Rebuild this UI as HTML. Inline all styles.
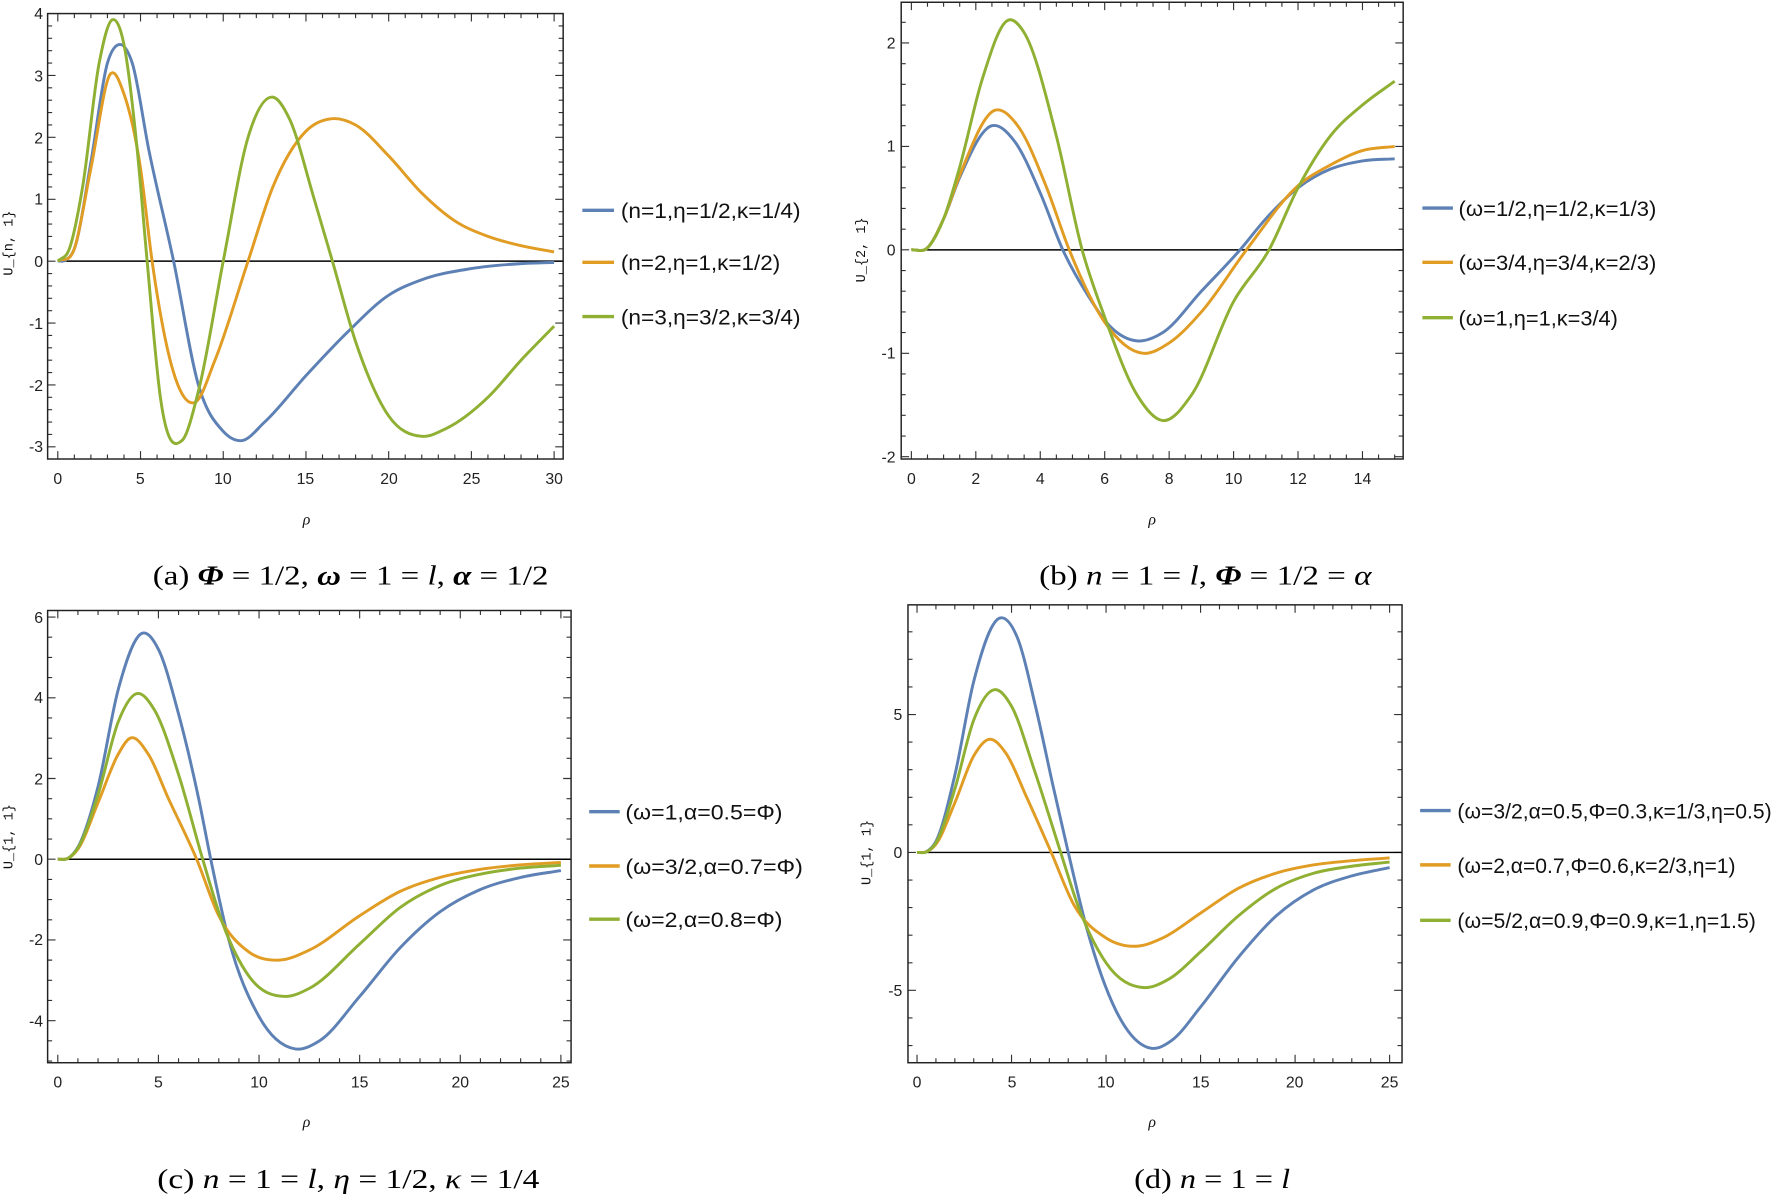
<!DOCTYPE html>
<html><head><meta charset="utf-8"><style>
html,body{margin:0;padding:0;background:#fff;}
svg{display:block}
.t{font-family:"Liberation Sans",sans-serif;font-size:14px;fill:#222}
.lg{font-family:"Liberation Sans","DejaVu Sans",sans-serif;font-size:19px;fill:#111}
.cap{font-family:"Liberation Serif",serif;font-size:24px;fill:#000}
.yl{font-family:"Liberation Mono",monospace;font-size:12px;fill:#111}
.rho{font-family:"Liberation Serif",serif;font-style:italic;font-size:14px;fill:#111}
</style></head><body>
<svg id="s" width="1773" height="1195" viewBox="0 0 1568 1057" xmlns="http://www.w3.org/2000/svg">
<g id="plots"></g>
<g class="t" text-anchor="middle">
<text x="51" y="428">0</text><text x="124" y="428">5</text><text x="197" y="428">10</text><text x="270" y="428">15</text><text x="344" y="428">20</text><text x="417" y="428">25</text><text x="490" y="428">30</text>
</g>
<g class="t" text-anchor="end">
<text x="38" y="17">4</text><text x="38" y="72">3</text><text x="38" y="127">2</text><text x="38" y="181">1</text><text x="38" y="236">0</text><text x="38" y="291">-1</text><text x="38" y="346">-2</text><text x="38" y="400">-3</text>
</g>
<text class="yl" transform="translate(11,215) rotate(-90)" text-anchor="middle">U_{n, 1}</text>
<text class="rho" x="271" y="464" text-anchor="middle">ρ</text>
<text class="cap" x="135" y="517" textLength="350" lengthAdjust="spacingAndGlyphs">(a) <tspan font-style="italic" font-weight="bold">Φ</tspan> = 1/2, <tspan font-style="italic" font-weight="bold">ω</tspan> = 1 = <tspan font-style="italic">l</tspan>, <tspan font-style="italic" font-weight="bold">α</tspan> = 1/2</text>
<g class="lg">
<text x="549" y="193" textLength="159" lengthAdjust="spacingAndGlyphs">(n=1,η=1/2,κ=1/4)</text>
<text x="549" y="239" textLength="141" lengthAdjust="spacingAndGlyphs">(n=2,η=1,κ=1/2)</text>
<text x="549" y="287" textLength="159" lengthAdjust="spacingAndGlyphs">(n=3,η=3/2,κ=3/4)</text>
</g>
<g class="t" text-anchor="middle">
<text x="806" y="428">0</text><text x="863" y="428">2</text><text x="920" y="428">4</text><text x="977" y="428">6</text><text x="1034" y="428">8</text><text x="1091" y="428">10</text><text x="1148" y="428">12</text><text x="1205" y="428">14</text>
</g>
<g class="t" text-anchor="end">
<text x="792" y="43">2</text><text x="792" y="134">1</text><text x="792" y="226">0</text><text x="792" y="317">-1</text><text x="792" y="409">-2</text>
</g>
<text class="yl" transform="translate(765,221) rotate(-90)" text-anchor="middle">U_{2, 1}</text>
<text class="rho" x="1019" y="464" text-anchor="middle">ρ</text>
<text class="cap" x="919" y="517" textLength="294" lengthAdjust="spacingAndGlyphs">(b) <tspan font-style="italic">n</tspan> = 1 = <tspan font-style="italic">l</tspan>, <tspan font-style="italic" font-weight="bold">Φ</tspan> = 1/2 = <tspan font-style="italic">α</tspan></text>
<g class="lg">
<text x="1290" y="191" textLength="175" lengthAdjust="spacingAndGlyphs">(ω=1/2,η=1/2,κ=1/3)</text>
<text x="1290" y="239" textLength="175" lengthAdjust="spacingAndGlyphs">(ω=3/4,η=3/4,κ=2/3)</text>
<text x="1290" y="288" textLength="141" lengthAdjust="spacingAndGlyphs">(ω=1,η=1,κ=3/4)</text>
</g>
<g class="t" text-anchor="middle">
<text x="51" y="962">0</text><text x="140" y="962">5</text><text x="229" y="962">10</text><text x="318" y="962">15</text><text x="407" y="962">20</text><text x="496" y="962">25</text>
</g>
<g class="t" text-anchor="end">
<text x="38" y="551">6</text><text x="38" y="622">4</text><text x="38" y="694">2</text><text x="38" y="765">0</text><text x="38" y="836">-2</text><text x="38" y="908">-4</text>
</g>
<text class="yl" transform="translate(11,740) rotate(-90)" text-anchor="middle">U_{1, 1}</text>
<text class="rho" x="271" y="997" text-anchor="middle">ρ</text>
<text class="cap" x="139" y="1051" textLength="338" lengthAdjust="spacingAndGlyphs">(c) <tspan font-style="italic">n</tspan> = 1 = <tspan font-style="italic">l</tspan>, <tspan font-style="italic">η</tspan> = 1/2, <tspan font-style="italic">κ</tspan> = 1/4</text>
<g class="lg">
<text x="553" y="725" textLength="139" lengthAdjust="spacingAndGlyphs">(ω=1,α=0.5=Φ)</text>
<text x="553" y="773" textLength="157" lengthAdjust="spacingAndGlyphs">(ω=3/2,α=0.7=Φ)</text>
<text x="553" y="820" textLength="139" lengthAdjust="spacingAndGlyphs">(ω=2,α=0.8=Φ)</text>
</g>
<g class="t" text-anchor="middle">
<text x="811" y="962">0</text><text x="895" y="962">5</text><text x="978" y="962">10</text><text x="1062" y="962">15</text><text x="1145" y="962">20</text><text x="1229" y="962">25</text>
</g>
<g class="t" text-anchor="end">
<text x="798" y="637">5</text><text x="798" y="759">0</text><text x="798" y="881">-5</text>
</g>
<text class="yl" transform="translate(770,754) rotate(-90)" text-anchor="middle">U_{1, 1}</text>
<text class="rho" x="1019" y="997" text-anchor="middle">ρ</text>
<text class="cap" x="1003" y="1051" textLength="138" lengthAdjust="spacingAndGlyphs">(d) <tspan font-style="italic">n</tspan> = 1 = <tspan font-style="italic">l</tspan></text>
<g class="lg">
<text x="1289" y="724" textLength="278" lengthAdjust="spacingAndGlyphs">(ω=3/2,α=0.5,Φ=0.3,κ=1/3,η=0.5)</text>
<text x="1289" y="772" textLength="246" lengthAdjust="spacingAndGlyphs">(ω=2,α=0.7,Φ=0.6,κ=2/3,η=1)</text>
<text x="1289" y="821" textLength="264" lengthAdjust="spacingAndGlyphs">(ω=5/2,α=0.9,Φ=0.9,κ=1,η=1.5)</text>
</g>
</svg>
<script>
var B='#5e81b5',O='#e19c24',G='#8fb032';
var panels=[
{L:42,R:498,T:12,Bt:406,x0:51,sx:439/30,y0:231,sy:54.75,xmaj:5,xmin:1,xmax:30,ymin:-3,ymax:4,ymaj:1,ymn:0.2,
 leg:{x1:515,x2:543,ys:[186,232,280]},
 c:[[B,[[0,0],[0.5,0.02],[1,0.2],[2,1.6],[3,3.2],[3.7,3.5],[4.5,3.2],[5.5,1.8],[7,0],[8.5,-2],[10,-2.75],[11.1,-2.9],[12.5,-2.6],[15,-1.85],[17.5,-1.15],[20,-0.55],[22,-0.3],[25,-0.12],[28,-0.04],[30,-0.02]]],
    [O,[[0,0],[1,0.2],[2,1.5],[3.2,3.03],[4,2.7],[5,1.5],[5.7,0],[7,-1.8],[8.3,-2.28],[9.5,-1.6],[11.5,0],[13,1.2],[15,2.1],[16.5,2.3],[18,2.2],[20,1.7],[22,1.1],[24,0.65],[26,0.4],[28,0.25],[30,0.15]]],
    [G,[[0,0],[0.7,0.2],[1.5,1.2],[2.5,3.2],[3.3,3.9],[4,3.5],[4.8,1.8],[5.4,0],[6.2,-2.2],[7.5,-2.9],[8.5,-2.1],[10,0],[11.5,2.0],[13,2.65],[14,2.3],[15.5,1.0],[16.6,0],[18,-1.3],[20,-2.5],[22,-2.83],[23.5,-2.7],[26,-2.2],[28,-1.6],[30,-1.05]]]]},
{L:797,R:1241,T:2,Bt:406,x0:806,sx:28.5,y0:221,sy:91.5,xmaj:2,xmin:0.5,xmax:15,ymin:-2,ymax:2.4,ymaj:1,ymn:0.2,
 leg:{x1:1258,x2:1285,ys:[184,232,281]},
 c:[[B,[[0,0],[0.5,0.02],[1,0.3],[1.5,0.7],[2.5,1.2],[3.2,1.05],[4,0.55],[4.7,0],[5.5,-0.45],[6.2,-0.75],[7,-0.88],[7.8,-0.8],[9,-0.4],[10.2,0],[11,0.3],[12,0.6],[13,0.78],[14,0.86],[15,0.88]]],
    [O,[[0,0],[0.5,0.02],[1,0.3],[1.5,0.72],[2.6,1.35],[3.3,1.2],[4.2,0.6],[4.9,0],[6,-0.7],[7.2,-1.0],[8,-0.9],[9,-0.6],[10.4,0],[12,0.62],[13,0.82],[14,0.96],[15,1.0]]],
    [G,[[0,0],[0.5,0.02],[1,0.3],[1.5,0.8],[2.2,1.65],[3,2.22],[3.5,2.1],[4.5,1.1],[5.3,0],[6,-0.65],[7,-1.4],[7.8,-1.65],[8.7,-1.4],[10,-0.5],[11.1,0],[12,0.6],[13,1.1],[14,1.4],[15,1.63]]]]},
{L:42,R:505,T:540,Bt:940,x0:51,sx:17.8,y0:760,sy:35.7,xmaj:5,xmin:1,xmax:25,ymin:-5,ymax:6,ymaj:2,ymn:0.5,
 leg:{x1:521,x2:548,ys:[718,766,813]},
 c:[[B,[[0,0],[0.5,0.02],[1,0.3],[2,1.8],[3,4.2],[4.2,5.6],[5,5.2],[6,3.6],[7,1.5],[7.6,0],[8.5,-2],[10,-3.9],[11.8,-4.7],[13,-4.5],[15,-3.4],[17,-2.2],[19,-1.3],[21,-0.75],[23,-0.45],[25,-0.28]]],
    [O,[[0,0],[0.5,0.02],[1,0.25],[2,1.4],[3,2.6],[3.6,3.0],[4.5,2.6],[5.5,1.5],[6.9,0],[8,-1.4],[9.5,-2.3],[11,-2.5],[12.5,-2.25],[15,-1.4],[17,-0.8],[19,-0.45],[21,-0.25],[23,-0.14],[25,-0.08]]],
    [G,[[0,0],[0.5,0.02],[1,0.28],[2,1.6],[3,3.4],[3.9,4.1],[4.8,3.7],[6,2.1],[7.2,0],[8.2,-1.6],[9.5,-2.9],[11.3,-3.4],[12.5,-3.2],[15,-2.1],[17,-1.2],[19,-0.65],[21,-0.37],[23,-0.22],[25,-0.15]]]]},
{L:803,R:1240,T:535,Bt:940,x0:811,sx:16.72,y0:754,sy:24.4,xmaj:5,xmin:1,xmax:25,ymin:-7.6,ymax:9,ymaj:5,ymn:1,
 leg:{x1:1256,x2:1283,ys:[717,765,814]},
 c:[[B,[[0,0],[0.5,0.03],[1,0.4],[2,2.8],[3,6.2],[4.4,8.5],[5.3,7.8],[6.3,5.2],[7.2,2.4],[8,0],[9,-2.8],[10.5,-5.7],[12.4,-7.1],[13.5,-6.8],[15,-5.6],[17,-3.8],[19,-2.3],[21,-1.35],[23,-0.85],[25,-0.55]]],
    [O,[[0,0],[0.5,0.02],[1,0.3],[2,1.8],[3,3.5],[3.8,4.1],[4.7,3.6],[5.8,2.0],[7.1,0],[8.3,-1.9],[10,-3.1],[11.6,-3.4],[13,-3.1],[15,-2.2],[17,-1.3],[19,-0.75],[21,-0.45],[23,-0.3],[25,-0.2]]],
    [G,[[0,0],[0.5,0.02],[1,0.35],[2,2.3],[3,4.8],[4.1,5.9],[5,5.3],[6.2,3.0],[7.6,0],[8.5,-1.9],[10,-4.0],[12,-4.9],[13.3,-4.6],[15,-3.6],[17,-2.3],[19,-1.3],[21,-0.75],[23,-0.5],[25,-0.35]]]]}
];
var NS='http://www.w3.org/2000/svg',g=document.getElementById('plots');
function el(n,a){var e=document.createElementNS(NS,n);for(var k in a)e.setAttribute(k,a[k]);g.appendChild(e);return e;}
function path(pts){var n=pts.length,m=[];
 for(var i=0;i<n;i++){
  if(i==0){m.push((pts[1][1]-pts[0][1])/(pts[1][0]-pts[0][0]));continue;}
  if(i==n-1){m.push((pts[i][1]-pts[i-1][1])/(pts[i][0]-pts[i-1][0]));continue;}
  var h0=pts[i][0]-pts[i-1][0],h1=pts[i+1][0]-pts[i][0];
  var s0=(pts[i][1]-pts[i-1][1])/h0,s1=(pts[i+1][1]-pts[i][1])/h1;
  m.push((s0*h1+s1*h0)/(h0+h1));}
 var d='M'+pts[0][0].toFixed(2)+','+pts[0][1].toFixed(2);
 for(var i=0;i<n-1;i++){var h=pts[i+1][0]-pts[i][0];
  d+='C'+(pts[i][0]+h/3).toFixed(2)+','+(pts[i][1]+m[i]*h/3).toFixed(2)+' '+(pts[i+1][0]-h/3).toFixed(2)+','+(pts[i+1][1]-m[i+1]*h/3).toFixed(2)+' '+pts[i+1][0].toFixed(2)+','+pts[i+1][1].toFixed(2);}
 return d;}
panels.forEach(function(p){
 var d='';
 for(var x=0;x<=p.xmax+1e-6;x+=p.xmin){var X=p.x0+x*p.sx;var maj=Math.abs(x/p.xmaj-Math.round(x/p.xmaj))<1e-6;var l=maj?7:4;
  d+='M'+X+','+p.Bt+'v-'+l+'M'+X+','+p.T+'v'+l;}
 var ys=Math.ceil(p.ymin/p.ymn-1e-6)*p.ymn;
 for(var y=ys;y<=p.ymax+1e-6;y+=p.ymn){var Y=p.y0-y*p.sy;if(Y<p.T||Y>p.Bt)continue;var maj=Math.abs(y/p.ymaj-Math.round(y/p.ymaj))<1e-6;var l=maj?7:4;
  d+='M'+p.L+','+Y+'h'+l+'M'+p.R+','+Y+'h-'+l;}
 el('path',{d:d,stroke:'#333','stroke-width':1,fill:'none'});
 el('line',{x1:p.x0,x2:p.R,y1:p.y0,y2:p.y0,stroke:'#000','stroke-width':1.3});
 p.c.forEach(function(c,i){
  var pts=c[1].map(function(q){return [p.x0+q[0]*p.sx,p.y0-q[1]*p.sy];});
  el('path',{d:path(pts),stroke:c[0],'stroke-width':2.6,fill:'none','stroke-linejoin':'round'});
  el('line',{x1:p.leg.x1,x2:p.leg.x2,y1:p.leg.ys[i],y2:p.leg.ys[i],stroke:c[0],'stroke-width':3});
 });
 el('rect',{x:p.L,y:p.T,width:p.R-p.L,height:p.Bt-p.T,fill:'none',stroke:'#222','stroke-width':1.3});
});
</script>
</body></html>
